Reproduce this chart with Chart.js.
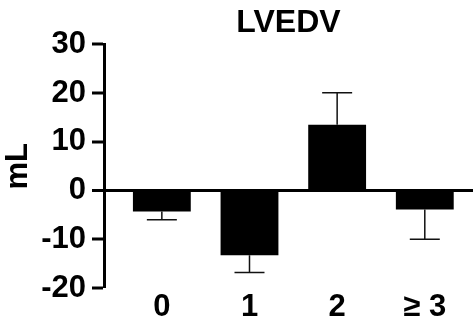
<!DOCTYPE html>
<html>
<head>
<meta charset="utf-8">
<script src="https://cdn.jsdelivr.net/npm/chart.js@4.4.0/dist/chart.umd.min.js"></script>
<style>
  html, body { margin: 0; padding: 0; background: #fff; }
  #wrap { width: 473px; height: 320px; }
</style>
</head>
<body>
<div id="wrap"><canvas id="c" width="473" height="320"></canvas></div>
<script>
// data
var categories = ['0', '1', '2', '\u2265 3'];
var means = [-4.3, -13.3, 13.5, -3.9];
var sem = [1.7, 3.5, 6.6, 6.1];   // one-sided, away from zero
var yTicks = [-20, -10, 0, 10, 20, 30];

var FONT = "'Liberation Sans', Arial, sans-serif";

// error bars drawn on top of the bars
var errorBars = {
    id: 'errorBars',
    afterDatasetsDraw: function (chart) {
        var ctx = chart.ctx, xs = chart.scales.x, ys = chart.scales.y;
        ctx.save();
        ctx.strokeStyle = '#111';
        ctx.lineWidth = 1.5;
        for (var i = 0; i < means.length; i++) {
            var dir = means[i] < 0 ? -1 : 1;
            var x = xs.getPixelForValue(i);
            var y0 = ys.getPixelForValue(means[i]);
            var y1 = ys.getPixelForValue(means[i] + dir * sem[i]);
            ctx.beginPath();
            ctx.moveTo(x, y0);
            ctx.lineTo(x, y1);
            ctx.moveTo(x - 15, y1);
            ctx.lineTo(x + 15, y1);
            ctx.stroke();
        }
        ctx.restore();
    }
};

var ctx = document.getElementById('c').getContext('2d');
var myChart = new Chart(ctx, {
    type: 'bar',
    data: {
        datasets: [{
            data: means.map(function (v, i) { return { x: i, y: v }; }),
            backgroundColor: '#000',
            borderWidth: 0,
            barPercentage: 0.66,
            categoryPercentage: 1
        }]
    },
    plugins: [errorBars],
    options: {
        responsive: false,
        animation: false,
        layout: { padding: 0 },
        plugins: {
            legend: { display: false },
            tooltip: { enabled: false },
            title: {
                display: true,
                text: 'LVEDV',
                fullSize: false,
                color: '#000',
                font: { family: FONT, size: 32, weight: 'bold' },
                padding: { top: 4, bottom: 2 }
            }
        },
        scales: {
            x: {
                type: 'linear',
                offset: false,
                min: -0.66,
                max: 3.55,
                grid: { display: false },
                border: { display: false },
                ticks: {
                    stepSize: 1,
                    includeBounds: false,
                    color: '#000',
                    padding: -7,
                    font: { family: FONT, size: 31, weight: 'bold' },
                    callback: function (v) { return categories[v]; }
                },
                afterFit: function (s) { s.height = 32; }
            },
            y: {
                min: -20,
                max: 30,
                afterBuildTicks: function (s) {
                    s.ticks = yTicks.map(function (v) { return { value: v }; });
                },
                border: { display: true, color: '#000', width: 3 },
                grid: {
                    drawOnChartArea: true,
                    color: function (c) { return c.tick && c.tick.value === 0 ? '#000' : 'rgba(0,0,0,0)'; },
                    lineWidth: function (c) { return c.tick && c.tick.value === 0 ? 3 : 0; },
                    tickColor: '#000',
                    tickWidth: 3,
                    tickLength: 12
                },
                ticks: {
                    color: '#000',
                    padding: 6,
                    font: { family: FONT, size: 31, weight: 'bold' }
                },
                title: {
                    display: true,
                    text: 'mL',
                    color: '#000',
                    font: { family: FONT, size: 31, weight: 'bold' },
                    padding: { top: 0, bottom: 0 }
                },
                afterFit: function (s) { s.width = 104; }
            }
        }
    }
});
</script>
</body>
</html>
